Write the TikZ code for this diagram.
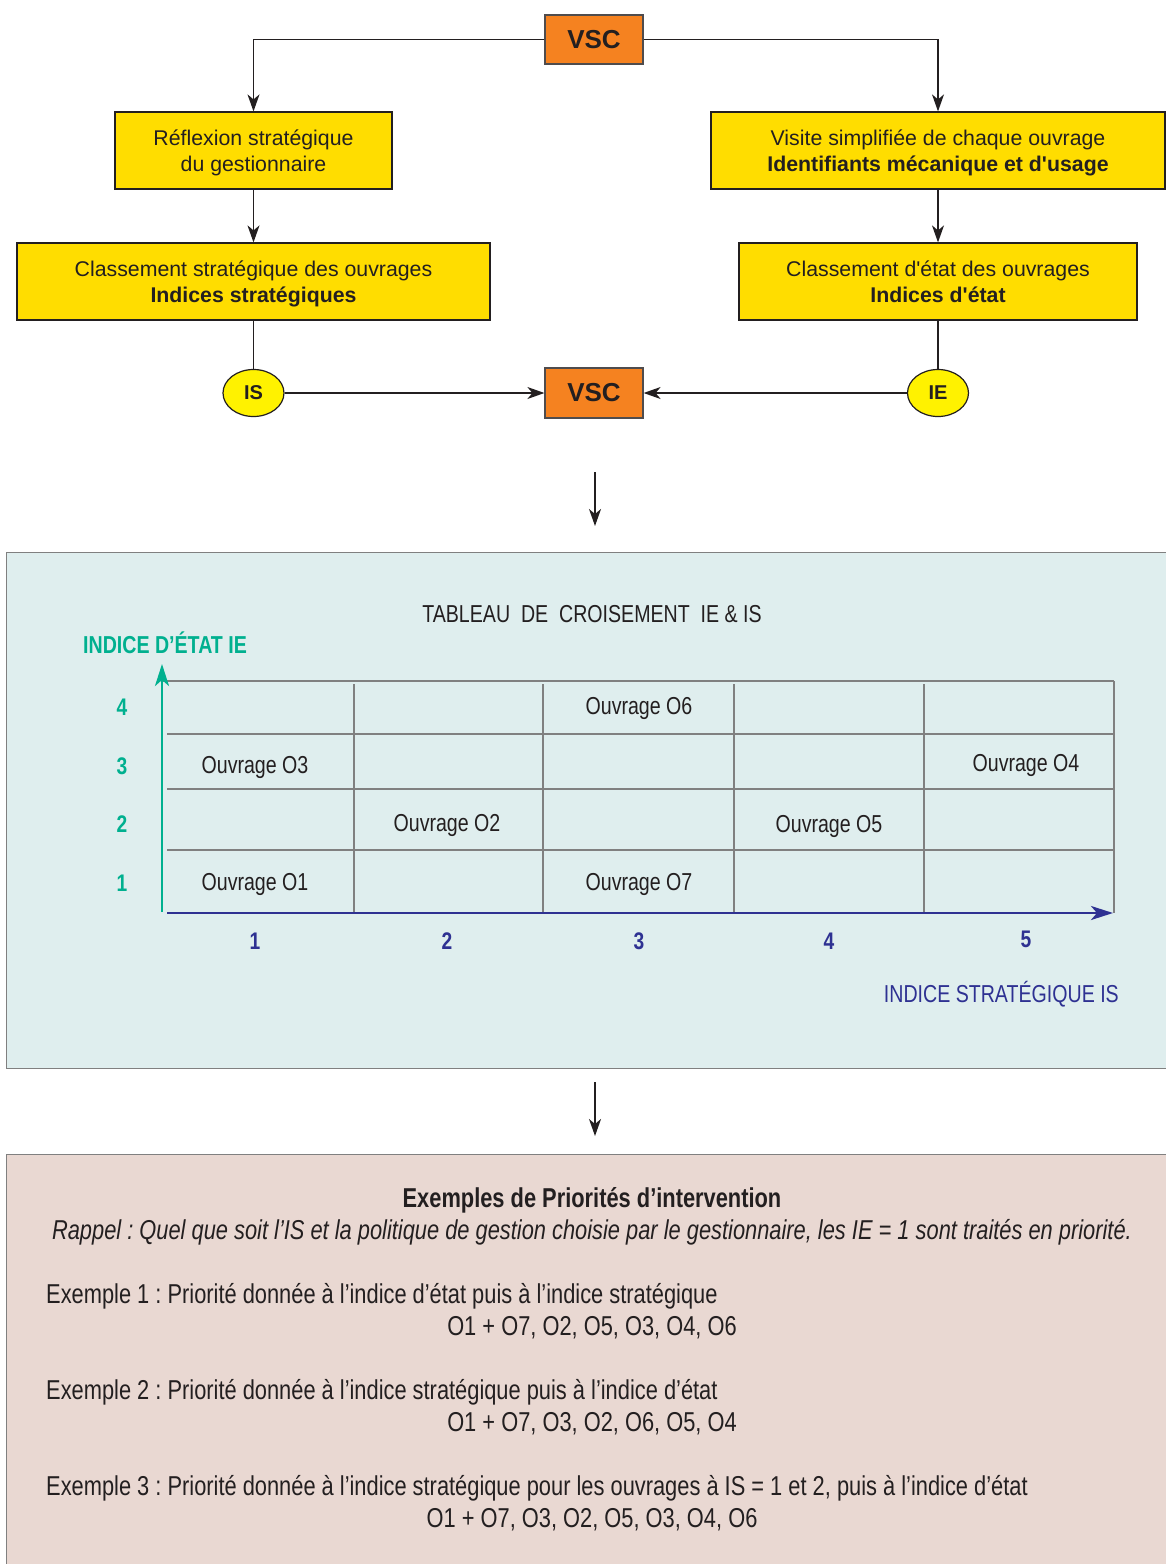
\documentclass[tikz,border=0pt]{standalone}
\usepackage{fontspec}
\setmainfont{Liberation Sans}[Ligatures=TeXOff]
\newfontfamily\cond[FakeStretch=0.8]{Liberation Sans}
\usetikzlibrary{arrows.meta,shapes.geometric}
\frenchspacing
\definecolor{ybox}{HTML}{FFDD00}
\definecolor{yell}{HTML}{FFF200}
\definecolor{orng}{HTML}{F58220}
\definecolor{teal2}{HTML}{00B08F}
\definecolor{blu}{HTML}{2E3192}
\definecolor{txt}{HTML}{231F20}
\definecolor{panelA}{HTML}{DFEEEE}
\definecolor{panelB}{HTML}{E9D8D2}
\definecolor{gridc}{HTML}{808080}
\tikzset{
  ybox/.style={draw=txt, line width=1.2pt, fill=ybox, align=center, text=txt, font=\fontsize{21.3}{26}\selectfont, inner sep=0pt, text depth=0pt},
  vscbox/.style={draw=txt!80, line width=1.2pt, fill=orng, text=txt, font=\fontsize{26}{30}\selectfont\bfseries, minimum width=98pt, minimum height=49pt, inner sep=0pt},
  ell/.style={ellipse, draw=txt, line width=1.2pt, fill=yell, text=txt, font=\fontsize{20}{24}\selectfont\bfseries, minimum width=61pt, minimum height=47pt, inner sep=0pt},
  conn/.style={draw=txt, line width=1.4pt},
  arr/.style={conn, -{Stealth[length=17pt,width=12pt,inset=5pt]}},
  panel/.style={draw=gridc, line width=1.2pt, inner sep=0pt},
  gridl/.style={draw=gridc, line width=1.3pt},
  cell/.style={text=txt, font=\cond\fontsize{24.5}{28}\selectfont, inner sep=0pt},
  rowl/.style={text=teal2, font=\cond\fontsize{24}{28}\selectfont\bfseries, inner sep=0pt},
  coll/.style={text=blu, font=\cond\fontsize{24}{28}\selectfont\bfseries, inner sep=0pt},
  btxt/.style={text=txt, font=\cond\fontsize{27.3}{31}\selectfont, inner sep=0pt},
  axarr/.style={line width=2.8pt, -{Stealth[length=22pt,width=14pt,inset=6pt]}},
}
\begin{document}
\begin{tikzpicture}[x=1pt,y=-1pt]
\useasboundingbox (0,0) rectangle (1166,1564);
% top flow
\node[vscbox] (vsc1) at (594,39.5) {VSC};
\node[ybox, minimum width=277pt, minimum height=77pt] (refl) at (253.5,150.5) {Réflexion stratégique\\du gestionnaire};
\node[ybox, minimum width=454pt, minimum height=77pt] (visite) at (938,150.5) {Visite simplifiée de chaque ouvrage\\\textbf{Identifiants mécanique et d'usage}};
\node[ybox, minimum width=473pt, minimum height=77pt] (classS) at (253.5,281.5) {Classement stratégique des ouvrages\\\textbf{Indices stratégiques}};
\node[ybox, minimum width=398pt, minimum height=77pt] (classE) at (938,281.5) {Classement d'état des ouvrages\\\textbf{Indices d'état}};
\node[ell] (is) at (253.5,393) {IS};
\node[ell] (ie) at (938,393) {IE};
\node[vscbox, minimum height=50pt] (vsc2) at (594,393) {VSC};
\draw[arr] (vsc1.west) -| (refl.north);
\draw[arr] (vsc1.east) -| (visite.north);
\draw[arr] (refl.south) -- (classS.north);
\draw[arr] (visite.south) -- (classE.north);
\draw[conn] (classS.south) -- (is.north);
\draw[conn] (classE.south) -- (ie.north);
\draw[arr] (is.east) -- (vsc2.west);
\draw[arr] (ie.west) -- (vsc2.east);
\coordinate (d1s) at (595,472);
\coordinate (d1e) at (595,526);
\draw[arr] (d1s) -- (d1e);
% panel tableau
\node[panel, fill=panelA, minimum width=1164pt, minimum height=516pt, anchor=north west] (tab) at (6,552) {};
\node[text=txt, font=\cond\fontsize{24.5}{28}\selectfont, inner sep=0pt] (ttl) at (592,614) {TABLEAU\ \ DE\ \ CROISEMENT\ \ IE \& IS};
\node[text=teal2, font=\cond\fontsize{24.5}{28}\selectfont\bfseries, inner sep=0pt, anchor=west] (ylab) at (83,643) {INDICE D’ÉTAT IE};
\node[text=blu, font=\cond\fontsize{24.5}{28}\selectfont, inner sep=0pt, anchor=east] (xlab) at (1119,994) {INDICE STRATÉGIQUE IS};
% grid
\draw[gridl] (163,681) -- (1114,681);
\foreach \y in {734,789,850} \draw[gridl] (167,\y) -- (1114,\y);
\foreach \x in {354,543,734,924} \draw[gridl] (\x,684) -- (\x,913);
\draw[gridl] (1114,681) -- (1114,913);
\coordinate (xa0) at (167,913);
\coordinate (xa1) at (1113,913);
\coordinate (ya0) at (162,912);
\coordinate (ya1) at (162,664);
\draw[axarr, draw=blu] (xa0) -- (xa1);
\draw[axarr, draw=teal2] (ya0) -- (ya1);
\node[rowl] (r4) at (122,707) {4};
\node[rowl] (r3) at (122,766) {3};
\node[rowl] (r2) at (122,824) {2};
\node[rowl] (r1) at (122,883) {1};
\node[coll] (c1) at (255,941) {1};
\node[coll] (c2) at (447,941) {2};
\node[coll] (c3) at (639,941) {3};
\node[coll] (c4) at (829,941) {4};
\node[coll] (c5) at (1026,939) {5};
\node[cell] (o3) at (255,767) {Ouvrage O3};
\node[cell] (o1) at (255,884) {Ouvrage O1};
\node[cell] (o2) at (447,825) {Ouvrage O2};
\node[cell] (o6) at (639,708) {Ouvrage O6};
\node[cell] (o7) at (639,884) {Ouvrage O7};
\node[cell] (o5) at (829,826) {Ouvrage O5};
\node[cell] (o4) at (1026,765) {Ouvrage O4};
\coordinate (d2s) at (595,1082);
\coordinate (d2e) at (595,1136);
\draw[arr] (d2s) -- (d2e);
% panel priorities
\node[panel, fill=panelB, minimum width=1164pt, minimum height=420pt, anchor=north west] (prio) at (6,1154) {};
\node[btxt, font=\cond\fontsize{27.3}{31}\selectfont\bfseries] (ph) at (592,1200) {Exemples de Priorités d’intervention};
\node[btxt, font=\cond\fontsize{27.3}{31}\selectfont\itshape] (rap) at (592,1232) {Rappel : Quel que soit l’IS et la politique de gestion choisie par le gestionnaire, les IE = 1 sont traités en priorité.};
\node[btxt, anchor=west] (e1) at (46,1296) {Exemple 1 : Priorité donnée à l’indice d’état puis à l’indice stratégique};
\node[btxt] (s1) at (592,1328) {O1 + O7, O2, O5, O3, O4, O6};
\node[btxt, anchor=west] (e2) at (46,1392) {Exemple 2 : Priorité donnée à l’indice stratégique puis à l’indice d’état};
\node[btxt] (s2) at (592,1424) {O1 + O7, O3, O2, O6, O5, O4};
\node[btxt, anchor=west] (e3) at (46,1488) {Exemple 3 : Priorité donnée à l’indice stratégique pour les ouvrages à IS = 1 et 2, puis à l’indice d’état};
\node[btxt] (s3) at (592,1520) {O1 + O7, O3, O2, O5, O3, O4, O6};
\end{tikzpicture}
\end{document}
